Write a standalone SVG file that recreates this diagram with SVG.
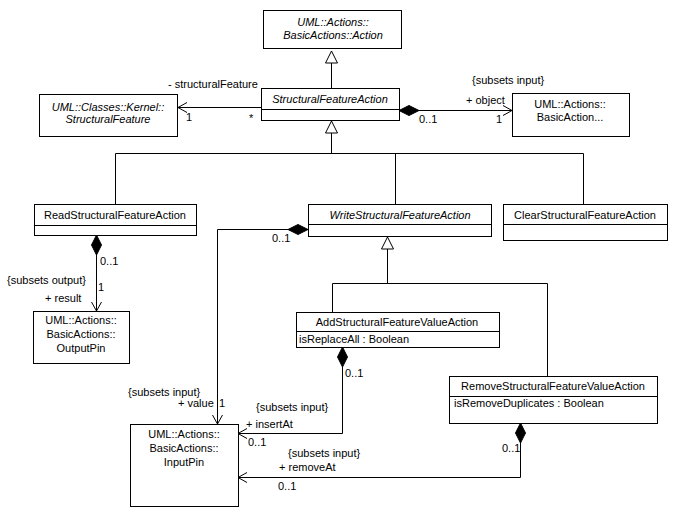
<svg xmlns="http://www.w3.org/2000/svg" width="676" height="516" viewBox="0 0 676 516">
<style>
text{font-family:"Liberation Sans",Arial,sans-serif;font-size:11px;fill:#000}
.c{text-anchor:middle}
.i{font-style:italic}
.box{fill:#fff;stroke:#000;stroke-width:1}
.ln{fill:none;stroke:#000;stroke-width:1}
</style>
<defs>
<marker id="open" viewBox="-10 -7 12 14" refX="0" refY="0" markerWidth="12" markerHeight="14" markerUnits="userSpaceOnUse" orient="auto" overflow="visible">
<path d="M-9,-5 L0,0 L-9,5" fill="none" stroke="#000" stroke-width="1"/>
</marker>
<marker id="dia" viewBox="-1 -6 22 12" refX="0" refY="0" markerWidth="22" markerHeight="12" markerUnits="userSpaceOnUse" orient="auto" overflow="visible">
<path d="M0,0 L10,-5 L20,0 L10,5 Z" fill="#000" stroke="#000" stroke-width="1"/>
</marker>
<marker id="tri" viewBox="-13 -7 14 14" refX="0" refY="0" markerWidth="14" markerHeight="14" markerUnits="userSpaceOnUse" orient="auto" overflow="visible">
<path d="M0,0 L-12,-6 L-12,6 Z" fill="#fff" stroke="#000" stroke-width="1"/>
</marker>
</defs>
<rect width="676" height="516" fill="#fff"/>

<g id="connectors">
<!-- generalizations -->
<path class="ln" d="M331.5,88 L331.5,51" marker-end="url(#tri)"/>
<path class="ln" d="M331.5,153 L331.5,121" marker-end="url(#tri)"/>
<path class="ln" d="M115.5,204 L115.5,153.5 L583.5,153.5 L583.5,204"/>
<path class="ln" d="M395.5,153.5 L395.5,204"/>
<path class="ln" d="M387.5,283 L387.5,237" marker-end="url(#tri)"/>
<path class="ln" d="M332.5,312 L332.5,283.5 L547.5,283.5 L547.5,376"/>
<!-- associations -->
<path class="ln" d="M261,107.5 L178,107.5" marker-end="url(#open)"/>
<path class="ln" d="M399,110.5 L512,110.5" marker-start="url(#dia)" marker-end="url(#open)"/>
<path class="ln" d="M96.5,235 L96.5,311" marker-start="url(#dia)" marker-end="url(#open)"/>
<path class="ln" d="M308,229.5 L217.5,229.5 L217.5,424" marker-start="url(#dia)" marker-end="url(#open)"/>
<path class="ln" d="M342.5,347 L342.5,433.5 L238,433.5" marker-start="url(#dia)" marker-end="url(#open)"/>
<path class="ln" d="M520.5,423 L520.5,477.5 L238,477.5" marker-start="url(#dia)" marker-end="url(#open)"/>
<!-- labels -->
<text x="168" y="88">- structuralFeature</text>
<text x="186" y="121">1</text>
<text x="249" y="122">*</text>
<text x="472" y="84">{subsets input}</text>
<text x="466" y="104">+ object</text>
<text x="419" y="123">0..1</text>
<text x="496" y="123">1</text>
<text x="100" y="265">0..1</text>
<text x="7" y="284">{subsets output}</text>
<text x="98" y="291">1</text>
<text x="45" y="302">+ result</text>
<text x="272" y="242">0..1</text>
<text x="128" y="396">{subsets input}</text>
<text x="178" y="407">+ value</text>
<text x="219" y="407">1</text>
<text x="345" y="377">0..1</text>
<text x="256" y="411">{subsets input}</text>
<text x="246" y="428">+ insertAt</text>
<text x="248" y="446">0..1</text>
<text x="502" y="452">0..1</text>
<text x="288" y="457">{subsets input}</text>
<text x="279" y="471">+ removeAt</text>
<text x="278" y="490">0..1</text>
</g>

<g id="Action">
<rect class="box" x="263.5" y="10.5" width="138" height="38"/>
<text class="c i" x="333" y="26">UML::Actions::</text>
<text class="c i" x="333" y="39">BasicActions::Action</text>
</g>

<g id="StructuralFeatureAction">
<rect class="box" x="261.5" y="88.5" width="138" height="32"/>
<path class="ln" d="M261.5,109.5 H399.5"/>
<text class="c i" x="330" y="103">StructuralFeatureAction</text>
</g>

<g id="StructuralFeature">
<rect class="box" x="39.5" y="94.5" width="138" height="42"/>
<text class="c i" x="108" y="111">UML::Classes::Kernel::</text>
<text class="c i" x="108" y="123">StructuralFeature</text>
</g>

<g id="BasicAction">
<rect class="box" x="512.5" y="93.5" width="117" height="43"/>
<text class="c" x="570" y="108">UML::Actions::</text>
<text class="c" x="570" y="121">BasicAction...</text>
</g>

<g id="ReadStructuralFeatureAction">
<rect class="box" x="34.5" y="204.5" width="162" height="31"/>
<path class="ln" d="M34.5,225.5 H196.5"/>
<text class="c" x="115" y="219">ReadStructuralFeatureAction</text>
</g>

<g id="WriteStructuralFeatureAction">
<rect class="box" x="308.5" y="204.5" width="183" height="32"/>
<path class="ln" d="M308.5,224.5 H491.5"/>
<text class="c i" x="400" y="219">WriteStructuralFeatureAction</text>
</g>

<g id="ClearStructuralFeatureAction">
<rect class="box" x="503.5" y="204.5" width="164" height="36"/>
<path class="ln" d="M503.5,224.5 H667.5"/>
<text class="c" x="585" y="219">ClearStructuralFeatureAction</text>
</g>

<g id="OutputPin">
<rect class="box" x="33.5" y="311.5" width="96" height="52"/>
<text class="c" x="81" y="324">UML::Actions::</text>
<text class="c" x="81" y="338">BasicActions::</text>
<text class="c" x="81" y="352">OutputPin</text>
</g>

<g id="AddStructuralFeatureValueAction">
<rect class="box" x="296.5" y="312.5" width="203" height="35"/>
<path class="ln" d="M296.5,331.5 H499.5"/>
<text class="c" x="397" y="326">AddStructuralFeatureValueAction</text>
<text x="299" y="343">isReplaceAll : Boolean</text>
</g>

<g id="RemoveStructuralFeatureValueAction">
<rect class="box" x="449.5" y="376.5" width="208" height="47"/>
<path class="ln" d="M449.5,396.5 H657.5"/>
<text class="c" x="553" y="390">RemoveStructuralFeatureValueAction</text>
<text x="454" y="407">isRemoveDuplicates : Boolean</text>
</g>

<g id="InputPin">
<rect class="box" x="130.5" y="424.5" width="108" height="82"/>
<text class="c" x="184" y="438">UML::Actions::</text>
<text class="c" x="184" y="452">BasicActions::</text>
<text class="c" x="184" y="466">InputPin</text>
</g>
</svg>
